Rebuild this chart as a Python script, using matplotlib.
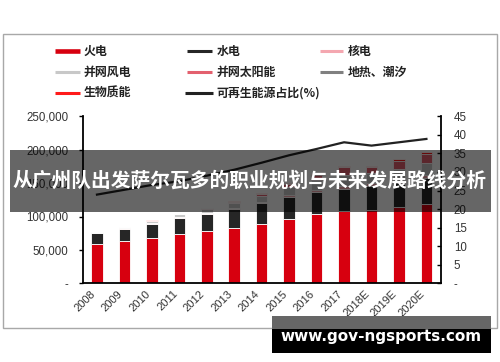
import matplotlib
matplotlib.use('Agg')
import matplotlib.pyplot as plt
import numpy as np
from matplotlib.lines import Line2D
from matplotlib.patches import Rectangle

# ---------------- data ----------------
years = ['2008', '2009', '2010', '2011', '2012', '2013', '2014', '2015',
         '2016', '2017', '2018E', '2019E', '2020E']
thermal = [58500, 62800, 68400, 73800, 78900, 83400, 89400, 97000,
           103000, 107800, 110300, 114200, 119300]
hydro = [16500, 18500, 21000, 23500, 25500, 28000, 30300, 32000,
         33200, 34000, 35000, 36500, 38000]
nuclear = [900, 900, 1100, 1250, 1250, 1500, 2000, 2700,
           3400, 3600, 4200, 4600, 5000]
wind = [800, 1800, 3000, 4600, 6100, 7600, 9600, 13000,
        14700, 16000, 15500, 16500, 18000]
solar = [0, 30, 30, 200, 340, 1600, 2500, 4200,
         7600, 12200, 9300, 12000, 13000]
geothermal = [3, 3, 3, 3, 3, 3, 3, 3, 3, 3, 3, 3, 3]
biomass = [300, 400, 550, 700, 800, 900, 950, 1000,
           1200, 1400, 1900, 2200, 2700]
share = [23.9, 25.2, 26.5, 27.5, 29.0, 30.6, 32.5, 34.5,
         36.2, 38.0, 37.1, 38.0, 38.9]

series_names = ['火电', '水电', '核电', '并网风电', '并网太阳能', '地热、潮汐', '生物质能']
series_vals = [thermal, hydro, nuclear, wind, solar, geothermal, biomass]
series_cols = ['#d7000f', '#262626', '#f4a7b0', '#c8c8c8', '#e3606e', '#808080', '#ff1a1a']
line_name = '可再生能源占比(%)'

left_ticks = [0, 50000, 100000, 150000, 200000, 250000]
left_labels = ['-', '50,000', '100,000', '150,000', '200,000', '250,000']
right_ticks = [0, 5, 10, 15, 20, 25, 30, 35, 40, 45]
right_labels = ['-', '5', '10', '15', '20', '25', '30', '35', '40', '45']

banner_text = '从广州队出发萨尔瓦多的职业规划与未来发展路线分析'
watermark = 'www.gov-ngsports.com'

# ---------------- figure ----------------
W, H = 500, 362
fig = plt.figure(figsize=(5, 3.62), dpi=100)
CJK = ['Noto Sans CJK SC', 'DejaVu Sans']
NUM = 'Liberation Sans'

def fx(px):
    return px / W

def fy(py):
    return 1 - py / H

# outer frame
fig.add_artist(Rectangle((fx(3.3), fy(328.3)), fx(496.7) - fx(3.3), fy(34) - fy(328.3),
                         transform=fig.transFigure, fill=False, edgecolor='#a8a8a8', lw=1.0))

ax_l, ax_r = 82.7, 440.7
ax_t, ax_b = 116.3, 283.3
ax = fig.add_axes([fx(ax_l), fy(ax_b), fx(ax_r) - fx(ax_l), fy(ax_t) - fy(ax_b)])
ax2 = ax.twinx()

x = np.arange(len(years))
bottom = np.zeros(len(years))
for vals, col in zip(series_vals, series_cols):
    v = np.array(vals, dtype=float)
    ax.bar(x, v, bottom=bottom, width=0.42, color=col, edgecolor='white', linewidth=0.6, zorder=2)
    bottom += v

ax2.plot(x, share, color='#222222', lw=1.6, zorder=3)

ax.set_xlim(-0.52, len(years) - 0.48)
ax.set_ylim(0, 250000)
ax2.set_ylim(0, 45)

ax.set_yticks(left_ticks)
ax.set_yticklabels(left_labels, fontname=NUM, fontsize=8.3, color='#333333')
ax2.set_yticks(right_ticks)
ax2.set_yticklabels(right_labels, fontname=NUM, fontsize=8.3, color='#333333')
ax.set_xticks(x)
ax.set_xticklabels(years, rotation=45, ha='right', va='top', fontname=NUM,
                   fontsize=8.0, color='#333333')

ax.tick_params(axis='y', direction='out', length=3, width=1, pad=7.5, color='black')
ax2.tick_params(axis='y', direction='in', length=3, width=1, pad=9.5, color='black')
ax.tick_params(axis='x', length=0, pad=4)

for a in (ax, ax2):
    a.patch.set_visible(False)
    for s in a.spines.values():
        s.set_color('black')
        s.set_linewidth(1.3)
    a.spines['top'].set_visible(False)
ax.spines['right'].set_visible(False)
ax2.spines['left'].set_visible(False)
ax2.spines['bottom'].set_visible(False)

# ---------------- legend (manual) ----------------
legend_items = [
    (series_names[0], series_cols[0], 3.3, 55, 80, 84, 51),
    (series_names[1], series_cols[1], 2.2, 187, 212, 216.5, 51),
    (series_names[2], series_cols[2], 2.2, 320, 343, 348, 51),
    (series_names[3], series_cols[3], 2.2, 55, 80, 84, 72),
    (series_names[4], series_cols[4], 2.2, 187, 212, 216.5, 72),
    (series_names[5], series_cols[5], 2.2, 320, 343, 348, 72),
    (series_names[6], series_cols[6], 2.2, 55, 80, 84, 93),
    (line_name, '#222222', 2.2, 185, 213, 216.5, 93),
]
for name, col, lw, x0, x1, tx, yy in legend_items:
    fig.add_artist(Line2D([fx(x0), fx(x1)], [fy(yy), fy(yy)], transform=fig.transFigure,
                          color=col, lw=lw, solid_capstyle='butt'))
    fig.text(fx(tx), fy(yy), name, family=CJK, fontsize=8.6, fontweight='bold',
             color='#222222', ha='left', va='center')

# ---------------- banner overlay ----------------
fig.add_artist(Rectangle((fx(10), fy(211.7)), fx(490.7) - fx(10), fy(150) - fy(211.7),
                         transform=fig.transFigure, facecolor='black', alpha=0.6,
                         edgecolor='none', zorder=10))
fig.text(fx(250), fy(181), banner_text, family=CJK, fontsize=14.2, fontweight='bold',
         color='white', ha='center', va='center', zorder=11)

# ---------------- watermark ----------------
fig.add_artist(Rectangle((fx(272), fy(328.5)), fx(490.7) - fx(272), fy(316) - fy(328.5),
                         transform=fig.transFigure, facecolor='#666666',
                         edgecolor='none', zorder=10))
fig.add_artist(Rectangle((fx(272), fy(352.7)), fx(490.7) - fx(272), fy(328.5) - fy(352.7),
                         transform=fig.transFigure, facecolor='black',
                         edgecolor='none', zorder=10))
fig.text(fx(381), fy(336), watermark, family=['DejaVu Sans'], fontsize=11.0,
         fontweight='bold', color='white', ha='center', va='center', zorder=11)

fig.savefig('out.png', dpi=100)
